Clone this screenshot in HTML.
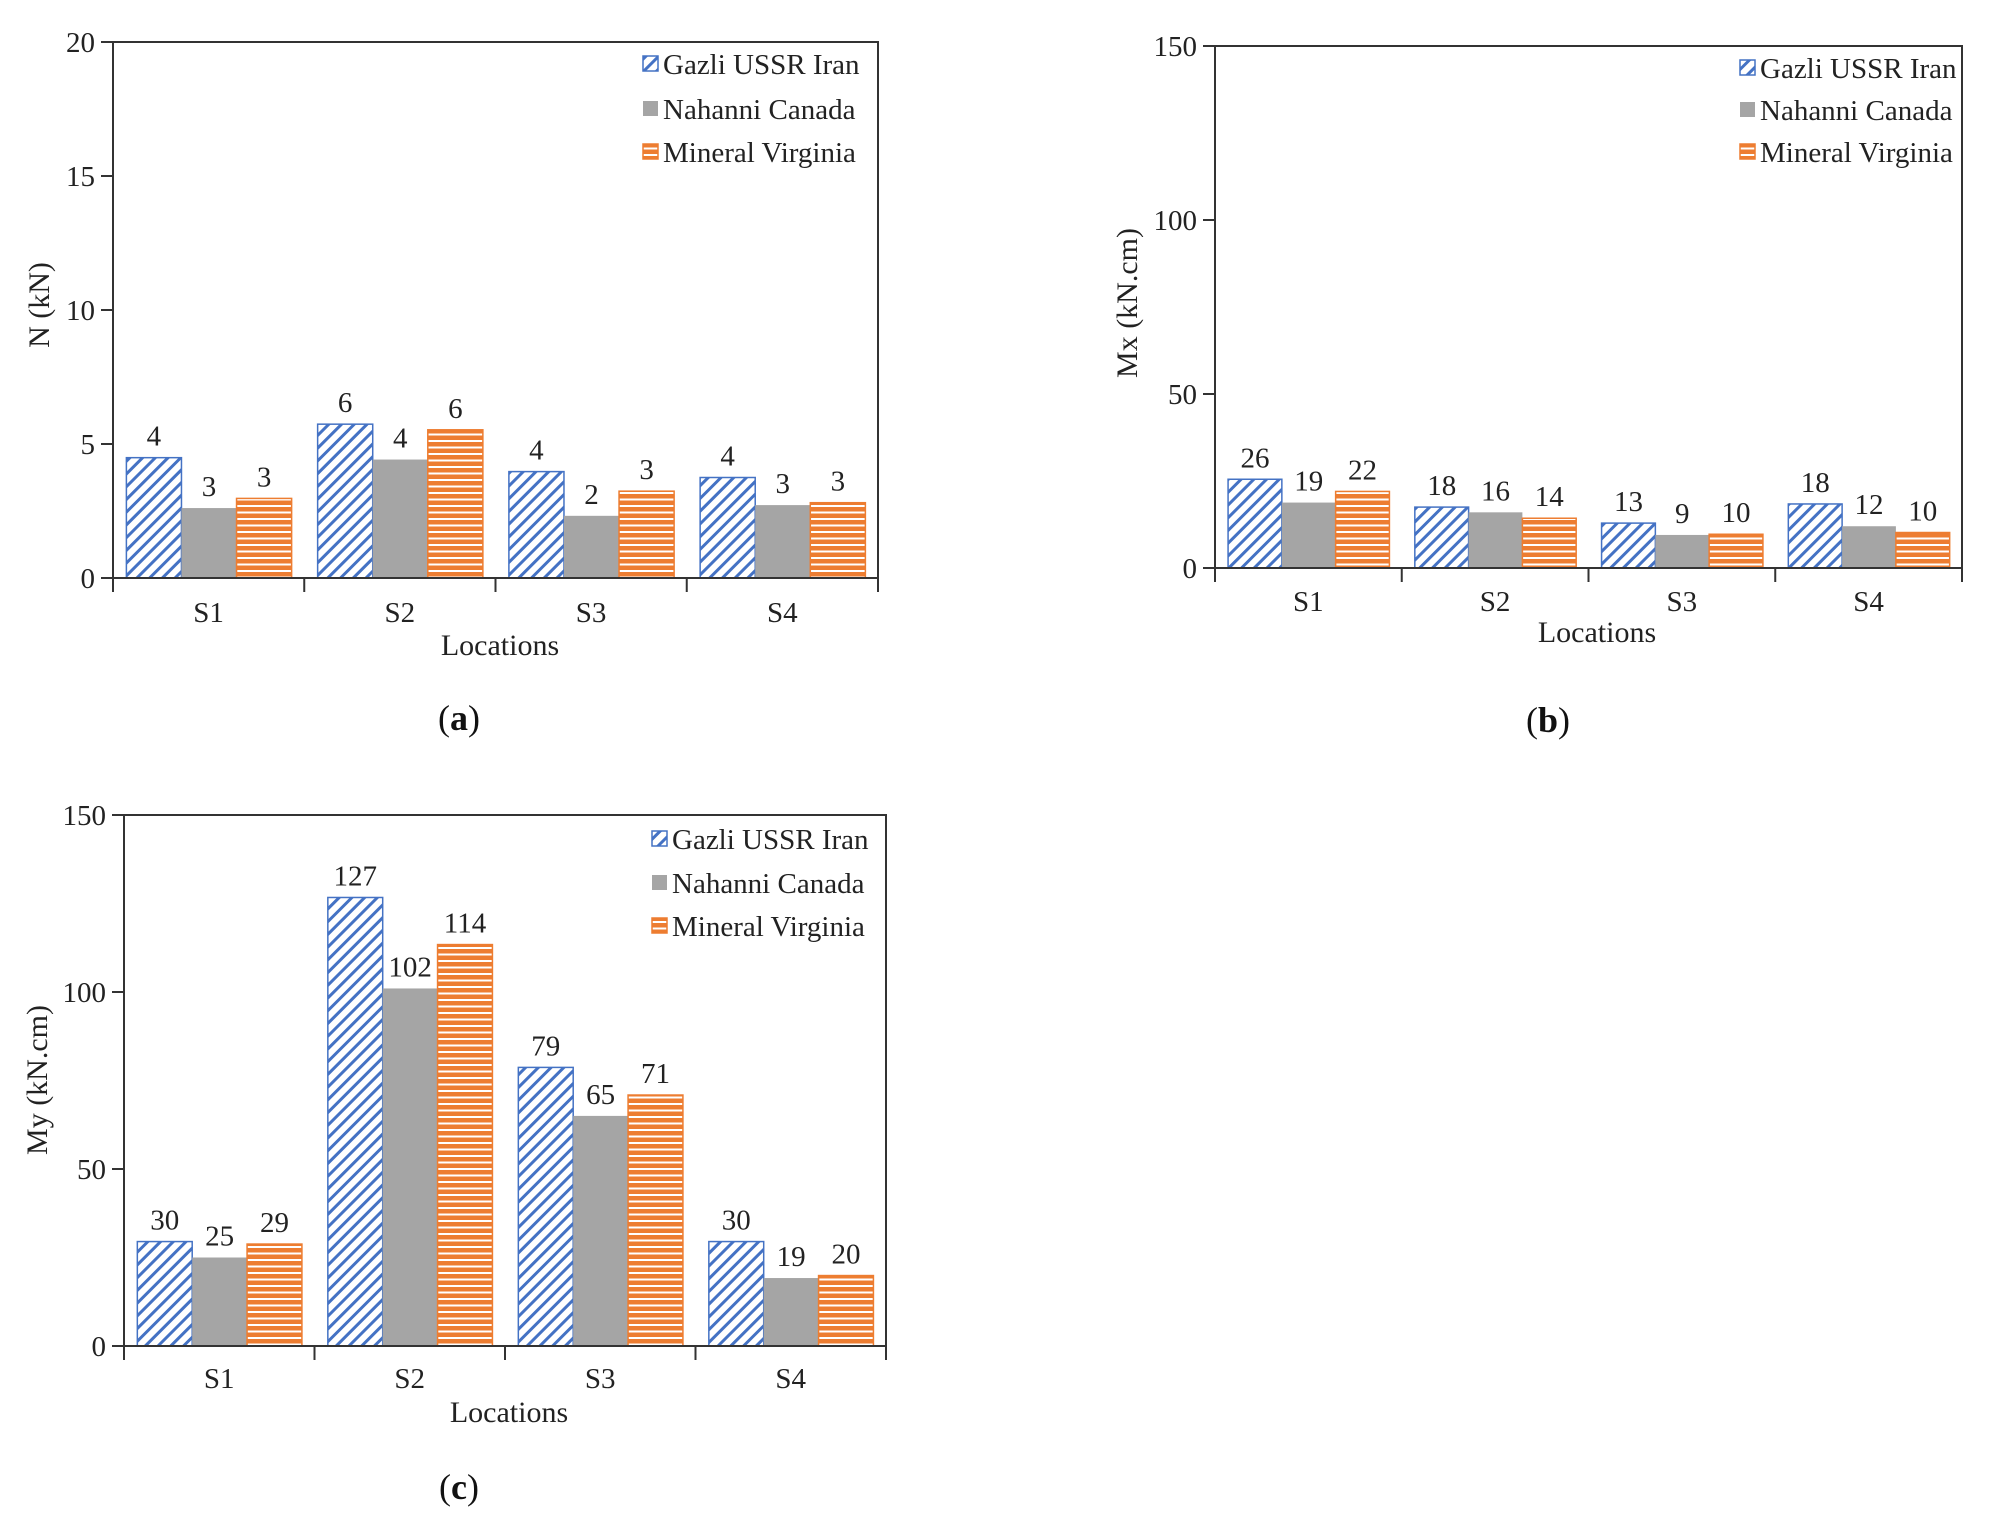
<!DOCTYPE html>
<html><head><meta charset="utf-8"><style>
html,body{margin:0;padding:0;background:#fff;}
svg{display:block;font-family:"Liberation Serif",serif;}
</style></head><body>
<svg id="fig" width="1991" height="1521" viewBox="0 0 1991 1521" xmlns="http://www.w3.org/2000/svg">
<defs>
<pattern id="diag" patternUnits="userSpaceOnUse" width="9" height="9" patternTransform="rotate(45)">
<rect width="9" height="9" fill="#fff"/><rect x="0" y="0" width="3" height="9" fill="#4472C4"/>
</pattern>
<pattern id="horiz" patternUnits="userSpaceOnUse" width="10" height="6.5">
<rect width="10" height="6.5" fill="#ED7D31"/><rect x="0" y="4.5" width="10" height="2" fill="#fff"/>
</pattern>
</defs>
</svg>
<script>
const categories = ["S1","S2","S3","S4"];
const seriesNames = ["Gazli USSR Iran","Nahanni Canada","Mineral Virginia"];
const aGazli = [4.49,5.74,3.97,3.75];
const aNahanni = [2.61,4.42,2.32,2.72];
const aMineral = [2.97,5.53,3.24,2.81];
const aLabels = [["4","6","4","4"],["3","4","2","3"],["3","6","3","3"]];
const aTicks = [0,5,10,15,20];
const bGazli = [25.5,17.5,12.9,18.4];
const bNahanni = [18.8,16,9.5,12];
const bMineral = [22,14.3,9.7,10.2];
const bLabels = [["26","18","13","18"],["19","16","9","12"],["22","14","10","10"]];
const bTicks = [0,50,100,150];
const cGazli = [29.5,126.7,78.7,29.5];
const cNahanni = [25,101,65,19.2];
const cMineral = [28.8,113.4,70.9,19.9];
const cLabels = [["30","127","79","30"],["25","102","65","19"],["29","114","71","20"]];
const cTicks = [0,50,100,150];

const NS="http://www.w3.org/2000/svg";
const svg=document.getElementById('fig');
function mk(tag,attrs,parent,text){
  const e=document.createElementNS(NS,tag);
  for(const k in attrs)e.setAttribute(k,attrs[k]);
  if(text!==undefined)e.textContent=text;
  (parent||svg).appendChild(e);return e;
}
const fills=["url(#diag)","#A5A5A5","url(#horiz)"];
const strokes=["#4472C4","none","#ED7D31"];
const keys=["gazli","nahanni","mineral"];

function panel(p){
  const g=mk('g',{});
  
  
  const yScale=v=>p.y0-(v-p.min)/(p.max-p.min)*(p.y0-p.top);
  const cw=(p.right-p.left)/categories.length;
  const bw=cw*0.288, off=cw*0.07;
  const series=[p.s1,p.s2,p.s3];
  series.forEach((arr,si)=>{
    arr.forEach((v,ci)=>{
      const x=p.left+ci*cw+off+si*bw;
      const y=yScale(v);
      const r=mk('rect',{x:x,y:y,width:bw,height:p.y0-y,fill:fills[si],stroke:strokes[si],'stroke-width':1.5},g);
      
      
      const t=mk('text',{x:x+bw/2,y:y-12,'text-anchor':'middle','font-size':29,fill:'#222'},g,p.labels[si][ci]);
      
      
    });
  });
  const ax=mk('path',{d:`M${p.left},${p.top}H${p.right}V${p.y0}H${p.left}Z`,fill:'none',stroke:'#333','stroke-width':2},g);
  
  
  p.ticks.forEach(tv=>{
    const y=yScale(tv);
    mk('line',{x1:p.left-12,x2:p.left,y1:y,y2:y,stroke:'#333','stroke-width':2},g);
    const t=mk('text',{x:p.left-18,y:y+10,'text-anchor':'end','font-size':29,fill:'#222'},g,String(tv));
    
    
  });
  for(let i=0;i<=categories.length;i++){
    const x=p.left+i*cw;
    mk('line',{x1:x,x2:x,y1:p.y0,y2:p.y0+14,stroke:'#333','stroke-width':2},g);
  }
  categories.forEach((c,ci)=>{
    const t=mk('text',{x:p.left+(ci+0.5)*cw,y:p.catY+10,'text-anchor':'middle','font-size':29,fill:'#222'},g,c);
    
    
  });
  const xt=mk('text',{x:p.xtX,y:p.xtY+10,'text-anchor':'middle','font-size':30,fill:'#222'},g,'Locations');
  
  
  const yt=mk('text',{x:0,y:0,transform:`translate(${p.ytX+10},${p.ytY}) rotate(-90)`,'text-anchor':'middle','font-size':30,fill:'#222'},g,p.ytitle);
  
  
  p.legY.forEach((ly,i)=>{
    const lg=mk('g',{},g);
    
    
    mk('rect',{x:p.legX,y:ly-8,width:15,height:15,fill:fills[i],stroke:strokes[i],'stroke-width':1.5},lg);
    mk('text',{x:p.legX+20,y:ly+10,'font-size':29,fill:'#222'},lg,seriesNames[i]);
  });
  const cap=mk('text',{x:p.capX,y:p.capY+12,'text-anchor':'middle','font-size':36,fill:'#111'},g);
  
  
  mk('tspan',{},cap,'(');
  mk('tspan',{'font-weight':'bold'},cap,p.id);
  mk('tspan',{},cap,')');
}
panel({id:'a',left:113,right:878,top:42,y0:578,min:0,max:20,ticks:aTicks,s1:aGazli,s2:aNahanni,s3:aMineral,labels:aLabels,
  catY:612,xtX:500,xtY:645,ytX:39,ytY:305,ytitle:'N (kN)',legX:643,legY:[64,109,152],capX:459,capY:718});
panel({id:'b',left:1215,right:1962,top:46,y0:568,min:0,max:150,ticks:bTicks,s1:bGazli,s2:bNahanni,s3:bMineral,labels:bLabels,
  catY:601,xtX:1597,xtY:632,ytX:1127,ytY:303,ytitle:'Mx (kN.cm)',legX:1740,legY:[68,110,152],capX:1548,capY:720});
panel({id:'c',left:124,right:886,top:815,y0:1346,min:0,max:150,ticks:cTicks,s1:cGazli,s2:cNahanni,s3:cMineral,labels:cLabels,
  catY:1378,xtX:509,xtY:1412,ytX:37,ytY:1080,ytitle:'My (kN.cm)',legX:652,legY:[839,883,926],capX:459,capY:1487});
</script>
</body></html>
